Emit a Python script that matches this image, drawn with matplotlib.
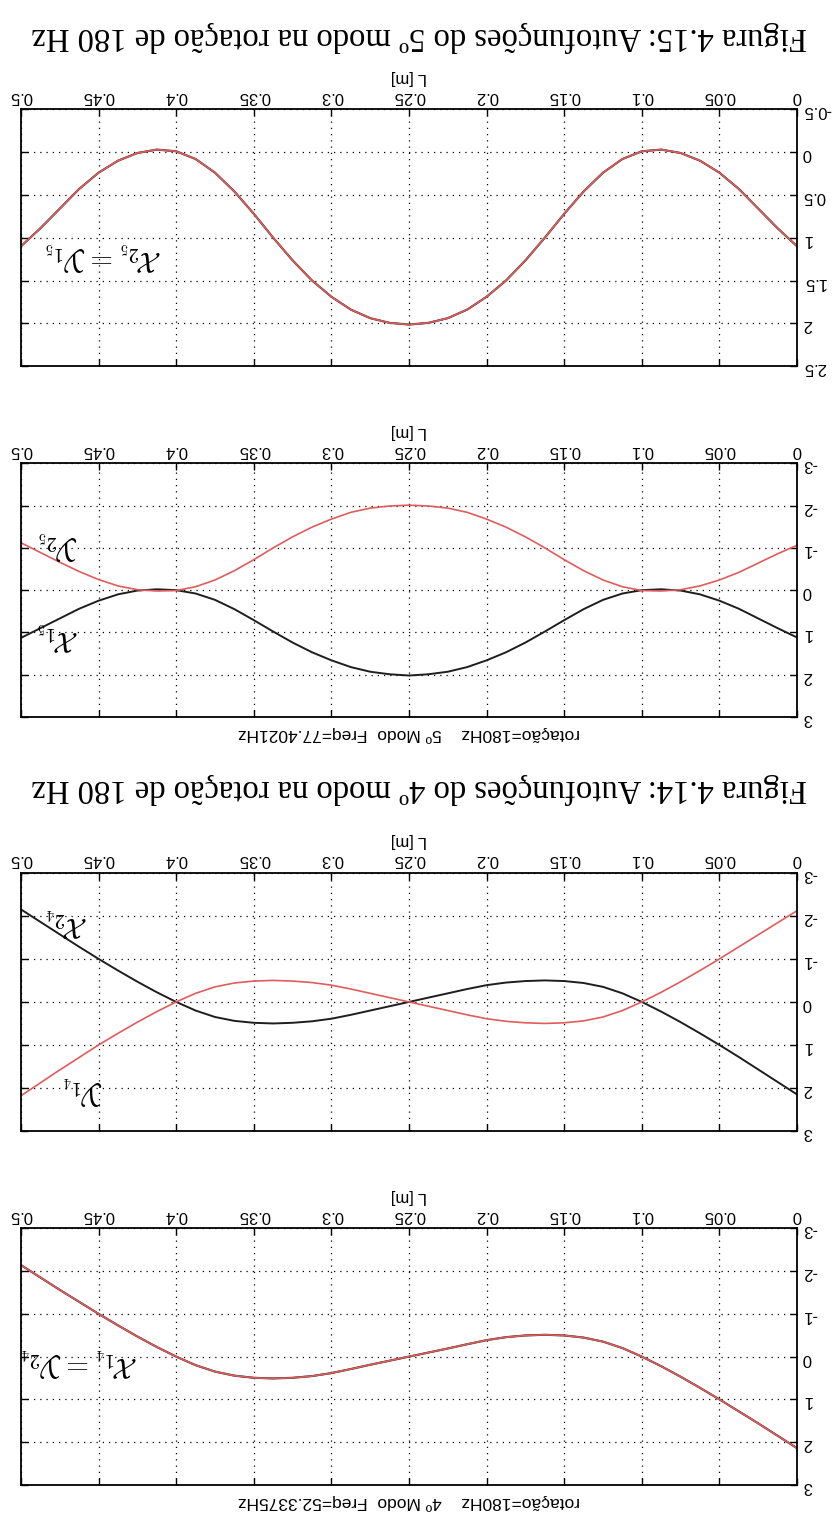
import numpy as np
import matplotlib.pyplot as plt

plt.rcParams['font.family'] = ['Liberation Sans', 'DejaVu Sans']
plt.rcParams['mathtext.fontset'] = 'cm'

# posição ao longo da viga [m], passo de 0.0125
L = np.linspace(0, 0.5, 41)

# 4o modo
x1_4 = [2.14, 1.85, 1.56, 1.28, 1.00, 0.73, 0.47, 0.225, 0.00, -0.20, -0.35,
        -0.445, -0.495, -0.51, -0.495, -0.455, -0.385, -0.29, -0.19, -0.095, 0.00,
        0.095, 0.19, 0.29, 0.385, 0.455, 0.495, 0.51, 0.495, 0.445, 0.35,
        0.20, 0.00, -0.225, -0.47, -0.73, -1.00, -1.28, -1.56, -1.85, -2.14]
y2_4 = x1_4
x2_4 = [2.15, 1.86, 1.57, 1.28, 1.00, 0.73, 0.47, 0.225, 0.00, -0.20, -0.35,
        -0.44, -0.485, -0.50, -0.485, -0.45, -0.39, -0.30, -0.20, -0.10, 0.00,
        0.10, 0.20, 0.30, 0.39, 0.45, 0.485, 0.50, 0.485, 0.44, 0.35,
        0.20, 0.00, -0.225, -0.47, -0.73, -1.00, -1.28, -1.57, -1.86, -2.15]
y1_4 = [-2.12, -1.84, -1.56, -1.28, -1.00, -0.73, -0.47, -0.225, 0.00, 0.20, 0.35,
        0.44, 0.485, 0.50, 0.485, 0.45, 0.39, 0.30, 0.20, 0.10, 0.00,
        -0.10, -0.20, -0.30, -0.39, -0.45, -0.485, -0.50, -0.485, -0.44, -0.35,
        -0.20, 0.00, 0.225, 0.47, 0.73, 1.00, 1.29, 1.58, 1.88, 2.18]

# 5o modo
x1_5 = [1.12, 0.90, 0.67, 0.44, 0.25, 0.10, 0.01, -0.02, 0.00, 0.08, 0.23,
        0.45, 0.71, 0.98, 1.24, 1.47, 1.66, 1.82, 1.93, 1.99, 2.02,
        1.99, 1.93, 1.82, 1.66, 1.47, 1.24, 0.98, 0.71, 0.45, 0.23,
        0.08, 0.00, -0.02, 0.01, 0.10, 0.25, 0.44, 0.67, 0.90, 1.13]
y2_5 = [-1.06, -0.86, -0.64, -0.42, -0.24, -0.10, -0.01, 0.02, 0.01, -0.08, -0.24,
        -0.46, -0.72, -1.00, -1.26, -1.49, -1.68, -1.84, -1.94, -1.99, -2.01,
        -1.99, -1.94, -1.84, -1.68, -1.49, -1.26, -1.00, -0.72, -0.46, -0.24,
        -0.08, 0.01, 0.02, -0.01, -0.10, -0.25, -0.44, -0.66, -0.89, -1.12]
x2_5 = [1.10, 0.89, 0.66, 0.43, 0.24, 0.10, 0.01, -0.03, -0.01, 0.08, 0.24,
        0.46, 0.72, 1.00, 1.265, 1.50, 1.69, 1.84, 1.94, 1.995, 2.015,
        1.995, 1.94, 1.84, 1.69, 1.50, 1.265, 1.00, 0.72, 0.46, 0.24,
        0.08, -0.01, -0.03, 0.01, 0.10, 0.24, 0.43, 0.66, 0.89, 1.10]
y1_5 = x2_5

x_ticks = [0, 0.05, 0.1, 0.15, 0.2, 0.25, 0.3, 0.35, 0.4, 0.45, 0.5]
x_labels = ['0', '0.05', '0.1', '0.15', '0.2', '0.25', '0.3', '0.35', '0.4', '0.45', '0.5']
y_ticks = [-3, -2, -1, 0, 1, 2, 3]
y_labels = ['-3', '-2', '-1', '0', '1', '2', '3']
y_ticks_d = [-0.5, 0, 0.5, 1, 1.5, 2, 2.5]
y_labels_d = ['-0.5', '0', '0.5', '1', '1.5', '2', '2.5']

PRETO = '#1e1e1e'
VERMELHO = '#e05c5c'

fig = plt.figure(figsize=(8.39, 15.19), dpi=100)


def painel(rect, ylim, yt, yl, titulo=None):
    # página digitalizada de cabeça para baixo: eixos invertidos e textos a 180 graus
    ax = fig.add_axes(rect)
    ax.set_xlim(0.5, 0)
    ax.set_ylim(ylim)
    ax.set_xticks(x_ticks, x_labels)
    ax.set_yticks(yt, yl)
    ax.xaxis.tick_top()
    ax.yaxis.tick_right()
    ax.xaxis.set_label_position('top')
    ax.tick_params(direction='in', length=5, width=1, top=True, bottom=True,
                   left=True, right=True, labelsize=12, labelrotation=180, pad=4)
    ax.grid(True, color='k', linestyle=(0, (1, 4)), linewidth=0.9)
    ax.set_xlabel('L [m]', rotation=180, fontsize=12, labelpad=5)
    for s in ax.spines.values():
        s.set_linewidth(1.3)
    if titulo:
        ax.text(0.5, -0.035, titulo, transform=ax.transAxes, rotation=180,
                ha='center', va='top', fontsize=12.5)
    return ax


esq, larg = 0.025, 0.925

# Figura 4.15 (parte de cima da página invertida)
axD = painel([esq, 0.759, larg, 0.169], (2.5, -0.5), y_ticks_d, y_labels_d)
axD.plot(L, x2_5, color=PRETO, lw=1.5)
axD.plot(L, y1_5, color=VERMELHO, lw=1.2)
axD.text(0.447, 1.22, r'$\mathcal{X}_{2_5} = \mathcal{Y}_{1_5}$', rotation=180,
         ha='center', va='center', fontsize=21)

axC = painel([esq, 0.528, larg, 0.167], (3, -3), y_ticks, y_labels,
             'rotação=180Hz    5º Modo  Freq=77.4021Hz')
axC.plot(L, x1_5, color=PRETO, lw=1.4)
axC.plot(L, y2_5, color=VERMELHO, lw=1.2)
axC.text(0.476, -1.05, r'$\mathcal{Y}_{2_5}$', rotation=180, ha='center', va='center', fontsize=21)
axC.text(0.476, 1.10, r'$\mathcal{X}_{1_5}$', rotation=180, ha='center', va='center', fontsize=21)

# Figura 4.14
axB = painel([esq, 0.2554, larg, 0.170], (3, -3), y_ticks, y_labels)
axB.plot(L, x2_4, color=PRETO, lw=1.4)
axB.plot(L, y1_4, color=VERMELHO, lw=1.2)
axB.text(0.470, -1.85, r'$\mathcal{X}_{2_4}$', rotation=180, ha='center', va='center', fontsize=21)
axB.text(0.460, 2.05, r'$\mathcal{Y}_{1_4}$', rotation=180, ha='center', va='center', fontsize=21)

axA = painel([esq, 0.0224, larg, 0.169], (3, -3), y_ticks, y_labels,
             'rotação=180Hz    4º Modo  Freq=52.3375Hz')
axA.plot(L, x1_4, color=PRETO, lw=1.5)
axA.plot(L, y2_4, color=VERMELHO, lw=1.2)
axA.text(0.462, 0.12, r'$\mathcal{X}_{1_4} = \mathcal{Y}_{2_4}$', rotation=180,
         ha='center', va='center', fontsize=21)

fig.text(0.5, 0.976, 'Figura 4.15: Autofunções do 5º modo na rotação de 180 Hz',
         rotation=180, ha='center', va='center', family='Liberation Serif', fontsize=23.5)
fig.text(0.5, 0.481, 'Figura 4.14: Autofunções do 4º modo na rotação de 180 Hz',
         rotation=180, ha='center', va='center', family='Liberation Serif', fontsize=23.5)

fig.savefig('out.png', dpi=100)
